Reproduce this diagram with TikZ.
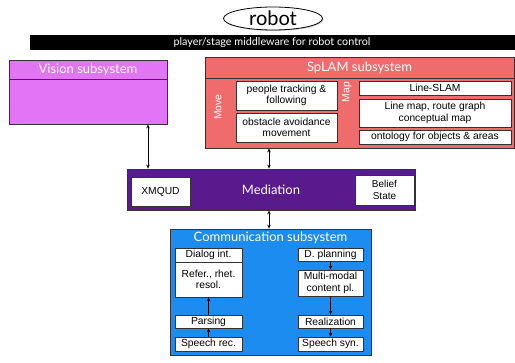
\documentclass[tikz,border=0pt]{standalone}
\usepackage{fontspec}
\setmainfont{Liberation Sans}
\newfontfamily\titlefont{Lato}
\usetikzlibrary{arrows.meta,shadows,positioning,shapes.geometric}

\definecolor{visioncol}{RGB}{226,116,245}
\definecolor{splamcol}{RGB}{240,108,108}
\definecolor{mediacol}{RGB}{88,26,140}
\definecolor{commcol}{RGB}{28,140,240}

\tikzset{
  subsys/.style={draw=black!80,line width=0.8pt,drop shadow={shadow xshift=1.2pt,shadow yshift=-1.2pt,opacity=0.4},inner sep=0pt},
  inbox/.style={draw=black!80,line width=0.7pt,fill=white,inner sep=0pt,align=center,font=\fontsize{10.3}{11.5}\selectfont},
  title/.style={text=white,font=\titlefont\fontsize{13}{15}\selectfont},
  side/.style={text=white,rotate=90,font=\fontsize{10.3}{12}\selectfont},
  link/.style={line width=0.7pt,{Stealth[length=4pt,width=3.5pt]}-{Stealth[length=4pt,width=3.5pt]}},
  flow/.style={line width=0.7pt,-{Stealth[length=4pt,width=3.5pt]}}
}

\begin{document}
\begin{tikzpicture}[x=1pt,y=-1pt]
  \useasboundingbox (0,0) rectangle (515,363);
  % top
  \node (robot) [draw,ellipse,line width=0.8pt,fill=white,minimum width=99pt,minimum height=23pt,inner sep=0pt,
    drop shadow={shadow xshift=1pt,shadow yshift=-1pt,opacity=0.4},font=\titlefont\fontsize{20}{22}\selectfont] at (273,18.5) {robot};
  \fill (30,35) rectangle (515,50);
  \node (mw) [text=white,font=\titlefont\fontsize{10.8}{12}\selectfont] at (272,42.5) {player/stage middleware for robot control};
  % vision
  \node (vision) [subsys,fill=visioncol,minimum width=158pt,minimum height=64pt] at (88,92) {};
  \draw[line width=0.8pt,black!80] (vision.west |- 0,79) -- (vision.east |- 0,79);
  \node (vt) [title] at (88,70) {Vision subsystem};
  % SpLAM
  \node (splam) [subsys,fill=splamcol,minimum width=309pt,minimum height=91pt] at (359.5,102.5) {};
  \draw[line width=0.8pt,black!80] (splam.west |- 0,78) -- (splam.east |- 0,78);
  \node (st) [title] at (359.5,68) {SpLAM subsystem};
  \node (move) [side] at (218,107) {Move};
  \node (map) [side] at (347,92) {Map};
  \node (track) [inbox,minimum width=101pt,minimum height=29pt] at (286.5,95.5) {people tracking \&\\following};
  \node (obst) [inbox,minimum width=101pt,minimum height=29pt] at (286.5,127.5) {obstacle avoidance\\movement};
  \node (lslam) [inbox,minimum width=152pt,minimum height=14pt] at (435,88) {Line-SLAM};
  \node (lmap) [inbox,minimum width=152pt,minimum height=28pt] at (435,113) {Line map, route graph\\conceptual map};
  \node (onto) [inbox,minimum width=152pt,minimum height=14pt] at (435,137) {ontology for objects \& areas};
  % mediation
  \node (med) [subsys,fill=mediacol,minimum width=288pt,minimum height=41pt] at (271,189.5) {};
  \node (mt) [title] at (271,189.5) {Mediation};
  \node (xmqud) [inbox,minimum width=59pt,minimum height=29pt] at (160.5,191.5) {XMQUD};
  \node (belief) [inbox,minimum width=59pt,minimum height=30pt,font=\fontsize{10}{12}\selectfont] at (384.5,190) {Belief\\State};
  % communication
  \node (comm) [subsys,fill=commcol,minimum width=201pt,minimum height=126pt] at (270.5,292) {};
  \node (ct) [title] at (270.5,238) {Communication subsystem};
  \node (dial) [inbox,minimum width=67pt,minimum height=14pt] at (208.5,255) {Dialog int.};
  \node (refer) [inbox,minimum width=67pt,minimum height=35pt] at (208.5,279.5) {Refer., rhet.\\resol.};
  \node (pars) [inbox,minimum width=67pt,minimum height=13pt] at (208.5,321.5) {Parsing};
  \node (srec) [inbox,minimum width=67pt,minimum height=14pt] at (208.5,344) {Speech rec.};
  \node (dplan) [inbox,minimum width=65pt,minimum height=13pt] at (330.5,254.5) {D. planning};
  \node (multi) [inbox,minimum width=65pt,minimum height=26pt] at (330.5,283) {Multi-modal\\content pl.};
  \node (real) [inbox,minimum width=65pt,minimum height=13pt] at (330.5,321.5) {Realization};
  \node (ssyn) [inbox,minimum width=65pt,minimum height=14pt] at (330.5,344) {Speech syn.};
  % connectors
  \draw[link] (vision.south -| 148,0) -- (med.north -| 148,0);
  \draw[link] (splam.south -| 269,0) -- (med.north -| 269,0);
  \draw[link] (med.south -| 269,0) -- (comm.north -| 269,0);
  \path[flow]
    (srec) edge (pars)
    (pars) edge (refer)
    (dplan) edge (multi)
    (multi) edge (real)
    (real) edge (ssyn);
\end{tikzpicture}
\end{document}
